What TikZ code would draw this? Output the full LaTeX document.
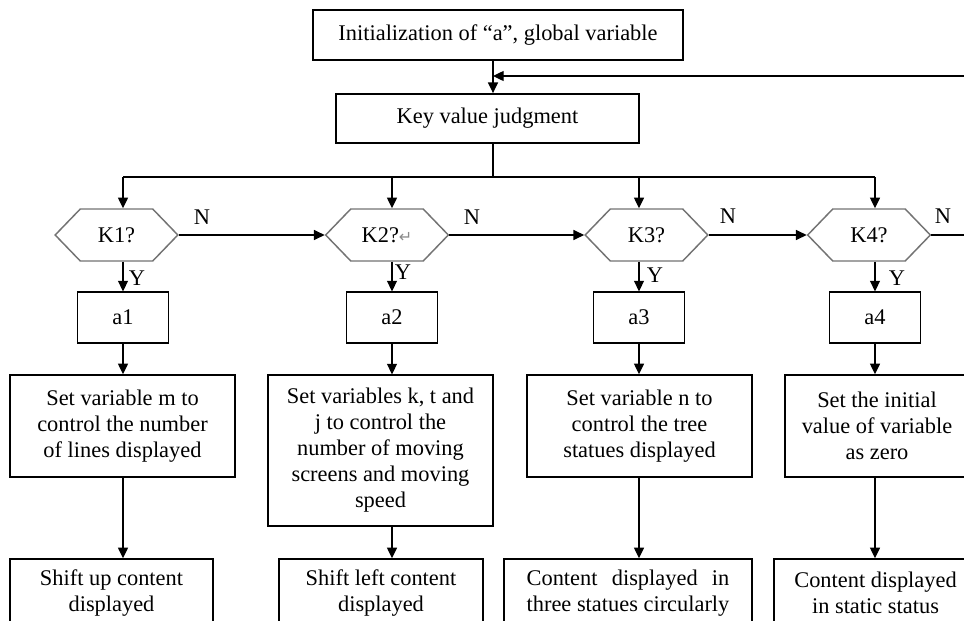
\documentclass[tikz,border=0pt]{standalone}
\usepackage{fontspec}
\setmainfont{Liberation Serif}
\newfontfamily\markfont{DejaVu Sans}
\usepackage{calc}
\usetikzlibrary{arrows.meta, positioning, shapes.symbols}
\tikzset{
    procBox/.style={rectangle, draw=black, line width=1.1pt, fill=white, align=center, inner sep=2pt},
    judgeHex/.style={signal, signal to=west and east, signal pointer angle=92, draw=black!55, line width=1.1pt, fill=white, minimum width=92pt, minimum height=39pt, inner sep=0pt},
    flowArrow/.style={->, line width=1pt},
    ynLabel/.style={inner sep=0pt}
}

\begin{document}
\begin{tikzpicture}[x=0.75pt, y=-0.75pt, >={Triangle[length=8pt, width=7.5pt]}, font=\fontsize{16.8}{19.5}\selectfont]
    \useasboundingbox (0,0) rectangle (964,621);
    \clip (0,0) rectangle (964,621);
    % start and key judgment
    \node[procBox, minimum width=277.5pt, minimum height=37.5pt] (init) at (498,35) {Initialization of “a”, global variable};
    \node[procBox, minimum width=227pt, minimum height=37pt] (judge) at (487.5,118.5) {Key value judgment};
    \coordinate (spine) at (493,0);
    \coordinate (back) at (1000,76);
    \draw[flowArrow] (init.south -| spine) -- (judge.north -| spine);
    \draw[flowArrow] (back) -- (spine |- back);
    % branch line to the four keys
    \coordinate (col1) at (123,177);  \coordinate (col2) at (392,177);
    \coordinate (col3) at (639,177);  \coordinate (col4) at (875,177);
    \draw[line width=1pt] (judge.south -| spine) -- (spine |- col1);
    \draw[line width=1pt] (col1) -- (col4);
    \node[judgeHex] (k1) at (116.5,235) {K1?};
    \node[judgeHex] (k2) at (387,235) {K2?{\markfont\fontsize{12}{12}\selectfont\color{black!45}↵}};
    \node[judgeHex] (k3) at (646.5,235) {K3?};
    \node[judgeHex] (k4) at (869,235) {K4?};
    \draw[flowArrow] (col1) -- (col1 |- k1.north);
    \draw[flowArrow] (col2) -- (col2 |- k2.north);
    \draw[flowArrow] (col3) -- (col3 |- k3.north);
    \draw[flowArrow] (col4) -- (col4 |- k4.north);
    % N branches
    \coordinate (out4) at (1000,235);
    \draw[flowArrow] (k1.east) -- (k2.west);
    \draw[flowArrow] (k2.east) -- (k3.west);
    \draw[flowArrow] (k3.east) -- (k4.west);
    \draw[line width=1pt] (k4.east) -- (out4);
    \node[ynLabel] (n1) at (202,217) {N};
    \node[ynLabel] (n2) at (472,217) {N};
    \node[ynLabel] (n3) at (728,216) {N};
    \node[ynLabel] (n4) at (943,216) {N};
    % Y branches
    \node[procBox, minimum width=68pt, minimum height=38pt] (a1) at (123,317.5) {a1};
    \node[procBox, minimum width=68pt, minimum height=38pt] (a2) at (392,317.5) {a2};
    \node[procBox, minimum width=68pt, minimum height=38pt] (a3) at (639,317.5) {a3};
    \node[procBox, minimum width=68pt, minimum height=38pt] (a4) at (875,317.5) {a4};
    \draw[flowArrow] (k1.south -| col1) -- (a1.north);
    \draw[flowArrow] (k2.south -| col2) -- (a2.north);
    \draw[flowArrow] (k3.south -| col3) -- (a3.north);
    \draw[flowArrow] (k4.south -| col4) -- (a4.north);
    \node[ynLabel] (y1) at (137,278) {Y};
    \node[ynLabel] (y2) at (403,272) {Y};
    \node[ynLabel] (y3) at (655,275) {Y};
    \node[ynLabel] (y4) at (897,278) {Y};
    % variable settings
    \node[procBox, minimum width=169pt, minimum height=76.5pt] (set1) at (122.5,426) {Set variable m to\\control the number\\of lines displayed};
    \node[procBox, minimum width=169pt, minimum height=113pt] (set2) at (380.5,450.5) {Set variables k, t and\\j to control the\\number of moving\\screens and moving\\speed};
    \node[procBox, minimum width=169pt, minimum height=76.5pt] (set3) at (639.5,426) {Set variable n to\\control the tree\\statues displayed};
    \node[procBox, minimum width=138pt, minimum height=76.5pt] (set4) at (877,426) {Set the initial\\value of variable\\as zero};
    \draw[flowArrow] (a1.south) -- (a1.south |- set1.north);
    \draw[flowArrow] (a2.south) -- (a2.south |- set2.north);
    \draw[flowArrow] (a3.south) -- (a3.south |- set3.north);
    \draw[flowArrow] (a4.south) -- (a4.south |- set4.north);
    % display modes
    \node[procBox, minimum width=152pt, minimum height=51pt] (show1) at (111.5,593) {Shift up content\\displayed};
    \node[procBox, minimum width=153pt, minimum height=51pt] (show2) at (381,593) {Shift left content\\displayed};
    \node[procBox, minimum width=186pt, minimum height=51pt] (show3) at (628,593) {\makebox[\widthof{three statues circularly}][s]{Content displayed in}\\three statues circularly};
    \node[procBox, minimum width=152pt, minimum height=51pt] (show4) at (875.5,593) {Content displayed\\in static status};
    \draw[flowArrow] (set1.south -| a1) -- (show1.north -| a1);
    \draw[flowArrow] (set2.south -| a2) -- (show2.north -| a2);
    \draw[flowArrow] (set3.south -| a3) -- (show3.north -| a3);
    \draw[flowArrow] (set4.south -| a4) -- (show4.north -| a4);
\end{tikzpicture}
\end{document}
